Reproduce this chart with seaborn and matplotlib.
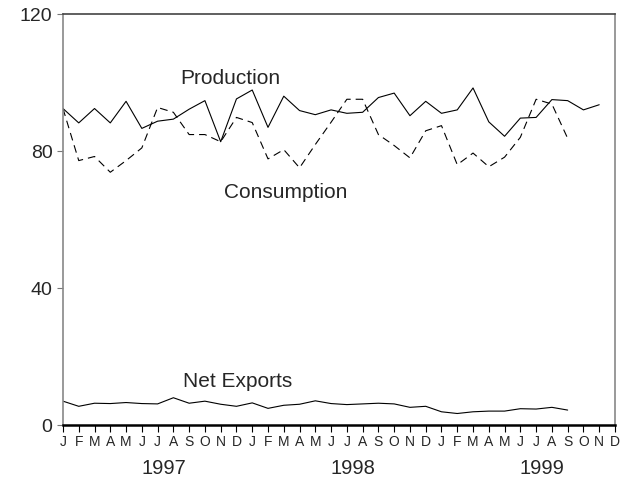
import pandas as pd
import seaborn as sns
import matplotlib.pyplot as plt

months = ["J", "F", "M", "A", "M", "J", "J", "A", "S", "O", "N", "D"] * 3
years = ["1997", "1998", "1999"]

production = [92.5, 88.3, 92.5, 88.3, 94.6, 86.7, 88.8, 89.4, 92.3, 94.8, 82.8, 95.3,
              97.9, 87.0, 96.1, 91.9, 90.7, 92.1, 91.1, 91.4, 95.7, 97.0, 90.4, 94.6,
              91.1, 92.1, 98.5, 88.6, 84.4, 89.7, 89.9, 95.1, 94.8, 92.1, 93.6]
consumption = [92.5, 77.3, 78.5, 73.9, 77.3, 81.0, 92.8, 91.4, 84.9, 84.9, 82.8, 89.9,
               88.4, 77.8, 80.5, 75.2, 82.0, 88.5, 95.2, 95.2, 84.9, 81.7, 78.1, 86.0,
               87.5, 76.1, 79.5, 75.5, 78.3, 84.1, 95.2, 93.8, 83.8]
net_exports = [7.1, 5.6, 6.5, 6.4, 6.7, 6.4, 6.3, 8.1, 6.5, 7.1, 6.2, 5.6,
               6.6, 5.0, 5.9, 6.2, 7.2, 6.4, 6.1, 6.3, 6.5, 6.3, 5.3, 5.6,
               4.0, 3.5, 4.0, 4.2, 4.2, 4.9, 4.8, 5.3, 4.5]

sns.set_style("white")
plt.rcParams['font.family'] = ['Liberation Sans', 'DejaVu Sans']

fig = plt.figure(figsize=(6.31, 4.79), dpi=100)
ax = fig.add_axes([0.0998, 0.1117, 0.8748, 0.8585])

prod_df = pd.DataFrame({'month': range(len(production)), 'value': production})
cons_df = pd.DataFrame({'month': range(len(consumption)), 'value': consumption})
net_df = pd.DataFrame({'month': range(len(net_exports)), 'value': net_exports})

sns.lineplot(x='month', y='value', data=prod_df, ax=ax, color='black', linewidth=0.8)
sns.lineplot(x='month', y='value', data=cons_df, ax=ax, color='black', linewidth=0.8,
             linestyle=(0, (7, 4.5)))
sns.lineplot(x='month', y='value', data=net_df, ax=ax, color='black', linewidth=0.8)

ax.set_xlim(0, 35)
ax.set_ylim(0, 120)
ax.set_xlabel('')
ax.set_ylabel('')

ax.set_yticks([0, 40, 80, 120])
ax.tick_params(axis='y', labelsize=14, length=4.5, width=0.8, color='#777777', pad=3,
               left=True, direction='out')
ax.set_xticks(range(36))
ax.set_xticklabels(months)
ax.tick_params(axis='x', labelsize=10, length=5, width=0.8, color='black', pad=2,
               bottom=True, direction='out')

for i, yr in enumerate(years):
    ax.text(i * 12 + 6.4, -0.118, yr, transform=ax.get_xaxis_transform(),
            ha='center', va='baseline', fontsize=14.5)

ax.spines['left'].set_color('#888888')
ax.spines['right'].set_color('#888888')
ax.spines['top'].set_color('#444444')
ax.spines['bottom'].set_color('black')
ax.spines['bottom'].set_linewidth(1.8)
for s in ['left', 'right', 'top']:
    ax.spines[s].set_linewidth(1.2)

ax.text(10.63, 99.6, 'Production', ha='center', va='baseline', fontsize=15)
ax.text(14.1, 66.5, 'Consumption', ha='center', va='baseline', fontsize=15)
ax.text(11.1, 11.3, 'Net Exports', ha='center', va='baseline', fontsize=15)

plt.savefig('out.png', dpi=100)
